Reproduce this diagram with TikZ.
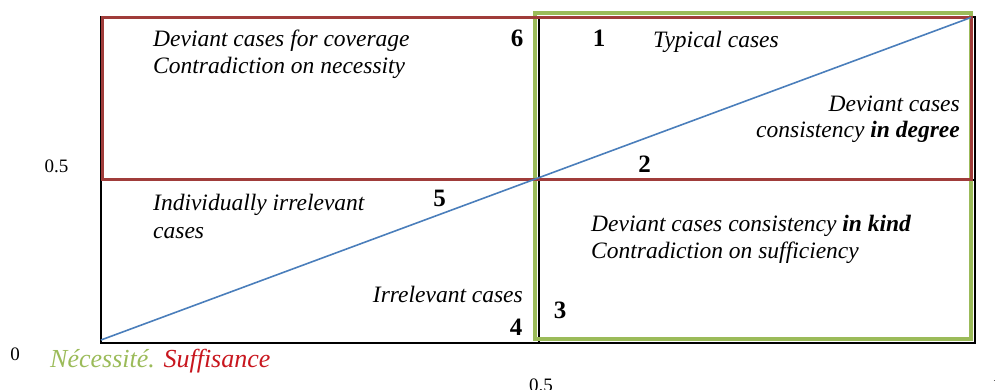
\documentclass[tikz,border=0pt]{standalone}
\usepackage{fontspec}
\setmainfont{Liberation Serif}[
  ItalicFont=Liberation Serif Italic,
  BoldFont=Liberation Serif Bold,
  BoldItalicFont=Liberation Serif Bold Italic]
\definecolor{necgreen}{HTML}{9BBB59}
\definecolor{sufred}{HTML}{A03C3A}
\definecolor{diagblue}{HTML}{4A7EBB}
\definecolor{labelred}{HTML}{C8161E}
\begin{document}
\begin{tikzpicture}[x=1pt,y=-1pt,
  txt/.style={inner sep=0pt,font=\fontsize{23.5}{27}\selectfont\itshape},
  num/.style={inner sep=0pt,font=\fontsize{25}{30}\selectfont\bfseries,anchor=base},
  tick/.style={inner sep=0pt,font=\fontsize{19}{23}\selectfont,anchor=base}]
\clip (0,0) rectangle (995,390);

% frame of the unit square and its mid lines
\coordinate (sw) at (101,342.5);
\coordinate (ne) at (975,17.5);
\coordinate (mt) at (538.5,17.5);
\coordinate (mb) at (538.5,342.5);
\coordinate (ml) at (101,180);
\coordinate (mr) at (975,180);
\draw[line width=2pt] (sw) rectangle (ne);
\draw[line width=2pt] (mt) -- (mb);
\draw[line width=2pt] (ml) -- (mr);

% necessity region (green) and sufficiency region (red)
\coordinate (gsw) at (535,339);
\coordinate (gne) at (971,13);
\draw[necgreen,line width=4pt] (gsw) rectangle (gne);
\coordinate (rsw) at (102,180);
\coordinate (rne) at (971.5,18);
\draw[sufred,line width=3pt] (rsw) rectangle (rne);

% diagonal
\coordinate (d0) at (101,340);
\coordinate (d1) at (971,17.5);
\draw[diagblue,line width=1.6pt] (d0) -- (d1);

% region descriptions
\node[txt,anchor=base west] (t6a) at (153,47) {Deviant cases for coverage};
\node[txt,anchor=base west] (t6b) at (153,74) {Contradiction on necessity};
\node[txt,anchor=base west] (t1) at (653,48) {Typical cases};
\node[txt,anchor=base east] (t2a) at (960,112) {Deviant cases};
\node[txt,anchor=base east] (t2b) at (960,138) {consistency \textbf{in degree}};
\node[txt,anchor=base west] (t5a) at (153,210) {Individually irrelevant};
\node[txt,anchor=base west] (t5b) at (153,238) {cases};
\node[txt,anchor=base west] (t3a) at (591,231) {Deviant cases consistency \textbf{in kind}};
\node[txt,anchor=base west] (t3b) at (591,258) {Contradiction on sufficiency};
\node[txt,anchor=base east] (t4) at (523,302) {Irrelevant cases};

% region numbers
\node[num] (n6) at (517,47) {6};
\node[num] (n1) at (599,47) {1};
\node[num] (n2) at (644.5,173) {2};
\node[num] (n5) at (439.5,207) {5};
\node[num] (n3) at (560,318) {3};
\node[num] (n4) at (516,335) {4};

% axis values
\node[tick] (y05) at (56.5,173) {0.5};
\node[tick] (o) at (15,360) {0};
\node[tick] (x05) at (541,391) {0.5};
\node[tick] (x1) at (997,391) {1};

% legend
\node[inner sep=0pt,anchor=base west,font=\fontsize{26}{30}\selectfont\itshape] (leg) at (50,367)
  {\textcolor{necgreen}{Nécessité.} \textcolor{labelred}{Suffisance}};
\end{tikzpicture}
\end{document}
